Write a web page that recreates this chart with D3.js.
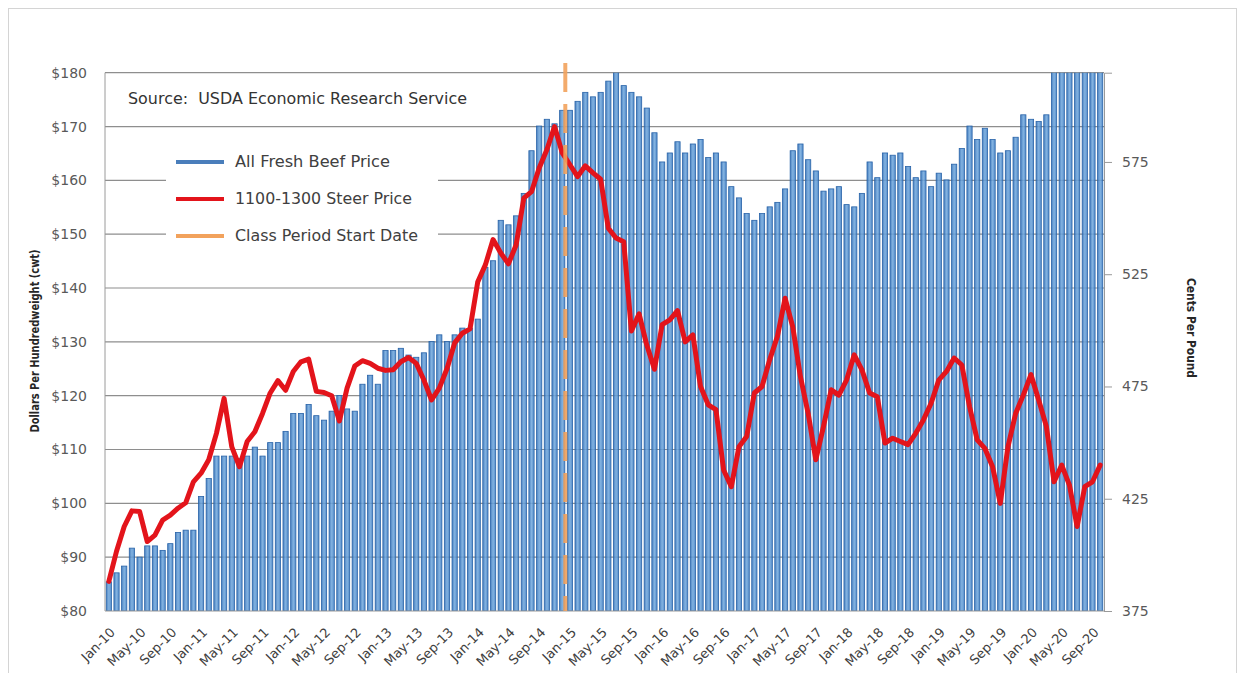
<!DOCTYPE html>
<html>
<head>
<meta charset="utf-8">
<title>All Fresh Beef vs 1100-1300 Steer Price</title>
<script src="https://d3js.org/d3.v7.min.js"></script>
<style>
    body { margin: 0; background: #fff; }
    svg text { font-family: "DejaVu Sans", "Liberation Sans", sans-serif; }
</style>
</head>
<body>
<div id="chart"></div>
<script>
// monthly categories Jan-10 .. Oct-20
const fmtMonth = d3.timeFormat("%b-%y");
const months = d3.timeMonth.range(new Date(2010, 0, 1), new Date(2020, 10, 1)).map(fmtMonth);

const tickLabels = ["Jan-10","May-10","Sep-10","Jan-11","May-11","Sep-11","Jan-12","May-12","Sep-12",
    "Jan-13","May-13","Sep-13","Jan-14","May-14","Sep-14","Jan-15","May-15","Sep-15",
    "Jan-16","May-16","Sep-16","Jan-17","May-17","Sep-17","Jan-18","May-18","Sep-18",
    "Jan-19","May-19","Sep-19","Jan-20","May-20","Sep-20"];

// All fresh beef retail price, cents per pound (right axis)
const beefCents = [
    388, 392, 395, 403, 399, 404, 404, 402, 405, 410, 411, 411,
    426, 434, 444, 444, 444, 443, 444, 448, 444, 450, 450, 455,
    463, 463, 467, 462, 460, 464, 471, 465, 464, 476, 480, 476,
    491, 491, 492, 489, 488, 490, 495, 498, 495, 498, 501, 501,
    505, 528, 531, 549, 547, 551, 561, 580, 591, 594, 592, 598,
    598, 602, 606, 604, 606, 611, 615, 609, 606, 604, 599, 588,
    575, 579, 584, 579, 583, 585, 577, 579, 575, 564, 559, 552,
    549, 552, 555, 557, 563, 580, 583, 576, 571, 562, 563, 564,
    556, 555, 561, 575, 568, 579, 578, 579, 573, 568, 571, 564,
    570, 567, 574, 581, 591, 585, 590, 585, 579, 580, 586, 596,
    594, 593, 596, 668, 715, 700, 662, 645, 640, 638
];

// 1100-1300 lb steer price, dollars per cwt (left axis)
const steerDollars = [
    85.5, 91.1, 95.7, 98.6, 98.5, 92.9, 94.1, 96.9, 97.8, 99.1, 100.1, 104.0,
    105.6, 108.1, 113.0, 119.5, 110.5, 106.8, 111.5, 113.3, 116.7, 120.5, 122.8, 121.0,
    124.5, 126.3, 126.8, 120.8, 120.6, 120.0, 115.3, 121.4, 125.5, 126.5, 126.0, 125.1,
    124.7, 124.8, 126.3, 127.1, 126.0, 122.9, 119.2, 121.4, 125.0, 129.8, 131.6, 132.4,
    141.1, 144.3, 149.0, 146.5, 144.5, 148.0, 156.7, 157.9, 162.3, 165.7, 170.0, 165.1,
    162.9, 160.7, 162.7, 161.4, 160.2, 151.1, 149.3, 148.6, 132.0, 135.2, 129.4, 124.9,
    133.2, 134.1, 135.8, 130.0, 131.3, 121.7, 118.3, 117.4, 106.2, 103.1, 110.5, 112.4,
    120.5, 121.7, 126.7, 131.0, 138.1, 132.8, 123.5, 116.7, 108.1, 114.3, 121.1, 120.1,
    122.9, 127.6, 124.8, 120.5, 119.8, 111.2, 112.1, 111.5, 110.9, 113.0, 115.5, 118.6,
    122.9, 124.5, 127.0, 125.7, 118.0, 111.8, 110.2, 106.8, 100.0, 110.5, 116.7, 120.1,
    123.9, 119.2, 114.3, 104.0, 107.1, 103.4, 95.7, 103.1, 104.0, 107.1
];

const classStart = "Jan-15";
const leftTicks = [80, 90, 100, 110, 120, 130, 140, 150, 160, 170, 180];
const rightTicks = [375, 425, 475, 525, 575];
const legendItems = [
    { label: "All Fresh Beef Price", color: "#4a7ebb", len: 155 },
    { label: "1100-1300 Steer Price", color: "#e3141b", len: 177 },
    { label: "Class Period Start Date", color: "#f2a25c", len: 183 }
];

const width = 1243, height = 673;
const plot = { left: 105, right: 1104, top: 72.7, bottom: 611 };

const svg = d3.select("#chart").append("svg")
    .attr("width", width)
    .attr("height", height);

svg.append("rect")
    .attr("x", 8.5).attr("y", 8.5)
    .attr("width", 1228).attr("height", 700)
    .attr("fill", "#fff")
    .attr("stroke", "#d4d4d4");

const x = d3.scaleBand()
    .domain(months)
    .range([plot.left, plot.right])
    .paddingInner(0.32)
    .paddingOuter(0.16);
const cx = m => x(m) + x.bandwidth() / 2;

const yLeft = d3.scaleLinear().domain([80, 180]).range([plot.bottom, plot.top]);
// right axis shares the pixel range: 375 cents sits on $80, 50 cents spans ~112px
const yRight = d3.scaleLinear().domain([375, 614.75]).range([plot.bottom, plot.top]);

// gridlines
svg.append("g")
    .selectAll("line")
    .data(leftTicks.slice(1))
    .join("line")
    .attr("x1", plot.left).attr("x2", plot.right)
    .attr("y1", d => yLeft(d)).attr("y2", d => yLeft(d))
    .attr("stroke", "#8e8e8e")
    .attr("stroke-width", 1.2);

// bars
const defs = svg.append("defs");
const grad = defs.append("linearGradient").attr("id", "barGrad")
    .attr("x1", "0%").attr("x2", "100%").attr("y1", "0%").attr("y2", "0%");
grad.append("stop").attr("offset", "0%").attr("stop-color", "#3170b8");
grad.append("stop").attr("offset", "50%").attr("stop-color", "#72a8dc");
grad.append("stop").attr("offset", "100%").attr("stop-color", "#3f7ec4");

defs.append("clipPath").attr("id", "plotClip")
    .append("rect")
    .attr("x", plot.left).attr("y", plot.top)
    .attr("width", plot.right - plot.left).attr("height", plot.bottom - plot.top);

svg.append("g")
    .attr("clip-path", "url(#plotClip)")
    .selectAll("rect")
    .data(beefCents)
    .join("rect")
    .attr("x", (d, i) => x(months[i]))
    .attr("width", x.bandwidth())
    .attr("y", d => yRight(d))
    .attr("height", d => plot.bottom - yRight(d))
    .attr("fill", "url(#barGrad)")
    .attr("fill-opacity", 0.88)
    .attr("stroke", "#2863a8")
    .attr("stroke-width", 0.8);

// axis lines
svg.append("line")
    .attr("x1", plot.left).attr("x2", plot.left)
    .attr("y1", plot.top).attr("y2", plot.bottom)
    .attr("stroke", "#9a9a9a");
svg.append("line")
    .attr("x1", plot.left).attr("x2", plot.right)
    .attr("y1", plot.bottom).attr("y2", plot.bottom)
    .attr("stroke", "#9a9a9a");

// left axis
const leftAxis = svg.append("g")
    .attr("transform", `translate(${plot.left},0)`)
    .call(d3.axisLeft(yLeft).tickValues(leftTicks).tickFormat(d => "$" + d).tickSize(0).tickPadding(18));
leftAxis.select(".domain").remove();
leftAxis.selectAll("text")
    .attr("font-size", 14)
    .attr("fill", "#595959");

// right axis
const rightAxis = svg.append("g")
    .attr("transform", `translate(${plot.right},0)`)
    .call(d3.axisRight(yRight).tickValues(rightTicks).tickSize(8).tickPadding(10));
rightAxis.select(".domain").attr("stroke", "#9a9a9a");
rightAxis.selectAll(".tick line").attr("stroke", "#9a9a9a");
rightAxis.selectAll("text")
    .attr("font-size", 14)
    .attr("fill", "#595959");

// bottom axis, rotated month labels
const bottomAxis = svg.append("g")
    .attr("transform", `translate(0,${plot.bottom})`)
    .call(d3.axisBottom(x).tickValues(tickLabels).tickSize(0));
bottomAxis.select(".domain").remove();
bottomAxis.selectAll("text")
    .attr("font-size", 13)
    .attr("fill", "#404040")
    .attr("text-anchor", "end")
    .attr("dy", 0)
    .attr("transform", "translate(5,20) rotate(-45)");

// axis titles
svg.append("text")
    .attr("transform", "translate(39,341) rotate(-90)")
    .attr("text-anchor", "middle")
    .attr("font-size", 12)
    .attr("font-weight", "bold")
    .attr("fill", "#262626")
    .attr("textLength", 183)
    .attr("lengthAdjust", "spacingAndGlyphs")
    .text("Dollars Per Hundredweight (cwt)");

svg.append("text")
    .attr("transform", "translate(1187,328) rotate(90)")
    .attr("text-anchor", "middle")
    .attr("font-size", 13)
    .attr("font-weight", "bold")
    .attr("fill", "#262626")
    .attr("textLength", 100)
    .attr("lengthAdjust", "spacingAndGlyphs")
    .text("Cents Per Pound");

// steer price line
const line = d3.line()
    .x((d, i) => cx(months[i]))
    .y(d => yLeft(d));
svg.append("path")
    .datum(steerDollars)
    .attr("d", line)
    .attr("fill", "none")
    .attr("stroke", "#e3141b")
    .attr("stroke-width", 5)
    .attr("stroke-linejoin", "round")
    .attr("stroke-linecap", "round");

// class period start marker
const xs = x(classStart) - 2;
svg.append("line")
    .attr("x1", xs).attr("x2", xs)
    .attr("y1", 63).attr("y2", plot.bottom)
    .attr("stroke", "#f2a25c")
    .attr("stroke-opacity", 0.9)
    .attr("stroke-width", 4)
    .attr("stroke-dasharray", "29,12");

// source note
svg.append("text")
    .attr("x", 128).attr("y", 104)
    .attr("font-size", 15)
    .attr("fill", "#333")
    .attr("textLength", 339)
    .attr("lengthAdjust", "spacingAndGlyphs")
    .attr("xml:space", "preserve")
    .style("white-space", "pre")
    .text("Source:  USDA Economic Research Service");

// legend
const legend = svg.append("g");
legend.append("rect")
    .attr("x", 166).attr("y", 140)
    .attr("width", 272).attr("height", 112)
    .attr("fill", "#fff");
const items = legend.selectAll("g.item")
    .data(legendItems)
    .join("g")
    .attr("class", "item")
    .attr("transform", (d, i) => `translate(0,${162 + i * 37})`);
items.append("line")
    .attr("x1", 176).attr("x2", 224)
    .attr("stroke", d => d.color)
    .attr("stroke-width", 4);
items.append("text")
    .attr("x", 235).attr("y", 0)
    .attr("dy", "0.35em")
    .attr("font-size", 15)
    .attr("fill", "#404040")
    .attr("textLength", d => d.len)
    .attr("lengthAdjust", "spacingAndGlyphs")
    .text(d => d.label);
</script>
</body>
</html>
